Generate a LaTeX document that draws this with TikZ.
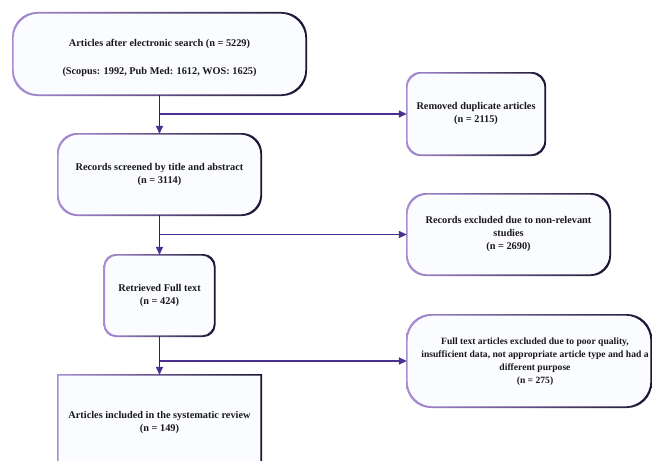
\documentclass[tikz,border=0pt]{standalone}
\usepackage{fontspec}
\setmainfont{Liberation Serif}
\usetikzlibrary{arrows.meta,backgrounds,calc}
\definecolor{bl}{HTML}{A88DD4}
\definecolor{bm}{HTML}{5C3E9E}
\definecolor{br}{HTML}{1C1433}
\definecolor{bf}{HTML}{FBFCFF}
\definecolor{lnv}{HTML}{2E2160}
\definecolor{lnh}{HTML}{4A3190}
\tikzset{
  boxn/.style={shape=rectangle, inner sep=0pt, align=center,
    font=\fontsize{10.3}{13}\selectfont\bfseries, text=black!90},
  vconn/.style={draw=lnv, line width=1.5pt, -{Triangle[length=8pt,width=7pt,color=lnh]}},
  hconn/.style={draw=lnh, line width=1.5pt, -{Triangle[length=8pt,width=7pt]}},
}
\newcommand\gradbox[2]{%
  \fill[bf, rounded corners=#2] (#1.north west) rectangle (#1.south east);
  \shade[left color=bl, middle color=bm, right color=br, even odd rule, rounded corners=#2]
    ([shift={(-0.8pt,0.8pt)}]#1.north west) rectangle ([shift={(0.8pt,-0.8pt)}]#1.south east)
    ([shift={(0.8pt,-0.8pt)}]#1.north west) rectangle ([shift={(-0.8pt,0.8pt)}]#1.south east);
}
\begin{document}
\begin{tikzpicture}[x=1pt,y=-1pt]
\useasboundingbox (0,0) rectangle (652,460);
\clip (0,0) rectangle (652,460);

\node[boxn, minimum width=293pt, minimum height=82pt] (b1) at (159.5,54) {};
\node[boxn] (t1) at (159.5,58)
  {Articles after electronic search (n = 5229)\\[15pt](Scopus: 1992, Pub Med: 1612, WOS: 1625)};
\node[boxn, minimum width=138pt, minimum height=82pt] (b2) at (476,114)
  {Removed duplicate articles\\(n = 2115)};
\node[boxn, minimum width=203pt, minimum height=81pt] (b3) at (159.5,174.5)
  {Records screened by title and abstract\\(n = 3114)};
\node[boxn, minimum width=203pt, minimum height=81pt] (b4) at (508.5,234.5)
  {Records excluded due to non-relevant\\studies\\(n = 2690)};
\node[boxn, minimum width=110pt, minimum height=81pt] (b5) at (159.5,295.5)
  {Retrieved Full text\\(n = 424)};
\node[boxn, minimum width=244pt, minimum height=92pt] (b6) at (529,361) {};
\node[boxn, font=\fontsize{9.6}{13}\selectfont\bfseries] (t6) at (535,362)
  {Full text articles excluded due to poor quality,\\insufficient data, not appropriate article type and had a\\different purpose\\(n = 275)};
\node[boxn, minimum width=203pt, minimum height=95pt] (b7) at (159.5,422.5)
  {Articles included in the systematic review\\(n = 149)};

\begin{pgfonlayer}{background}
  \fill[white] (0,0) rectangle (652,460);
  \gradbox{b1}{25pt}
  \gradbox{b2}{14pt}
  \gradbox{b3}{20pt}
  \gradbox{b4}{20pt}
  \gradbox{b5}{12pt}
  \gradbox{b6}{25pt}
  \gradbox{b7}{0pt}
\end{pgfonlayer}

\draw[vconn] (b1.south) -- (b3.north);
\draw[hconn] (b1.south |- b2.west) -- (b2.west);
\draw[vconn] (b3.south) -- (b5.north);
\draw[hconn] (b3.south |- b4.west) -- (b4.west);
\draw[vconn] (b5.south) -- (b7.north);
\draw[hconn] (b5.south |- b6.west) -- (b6.west);
\end{tikzpicture}
\end{document}
